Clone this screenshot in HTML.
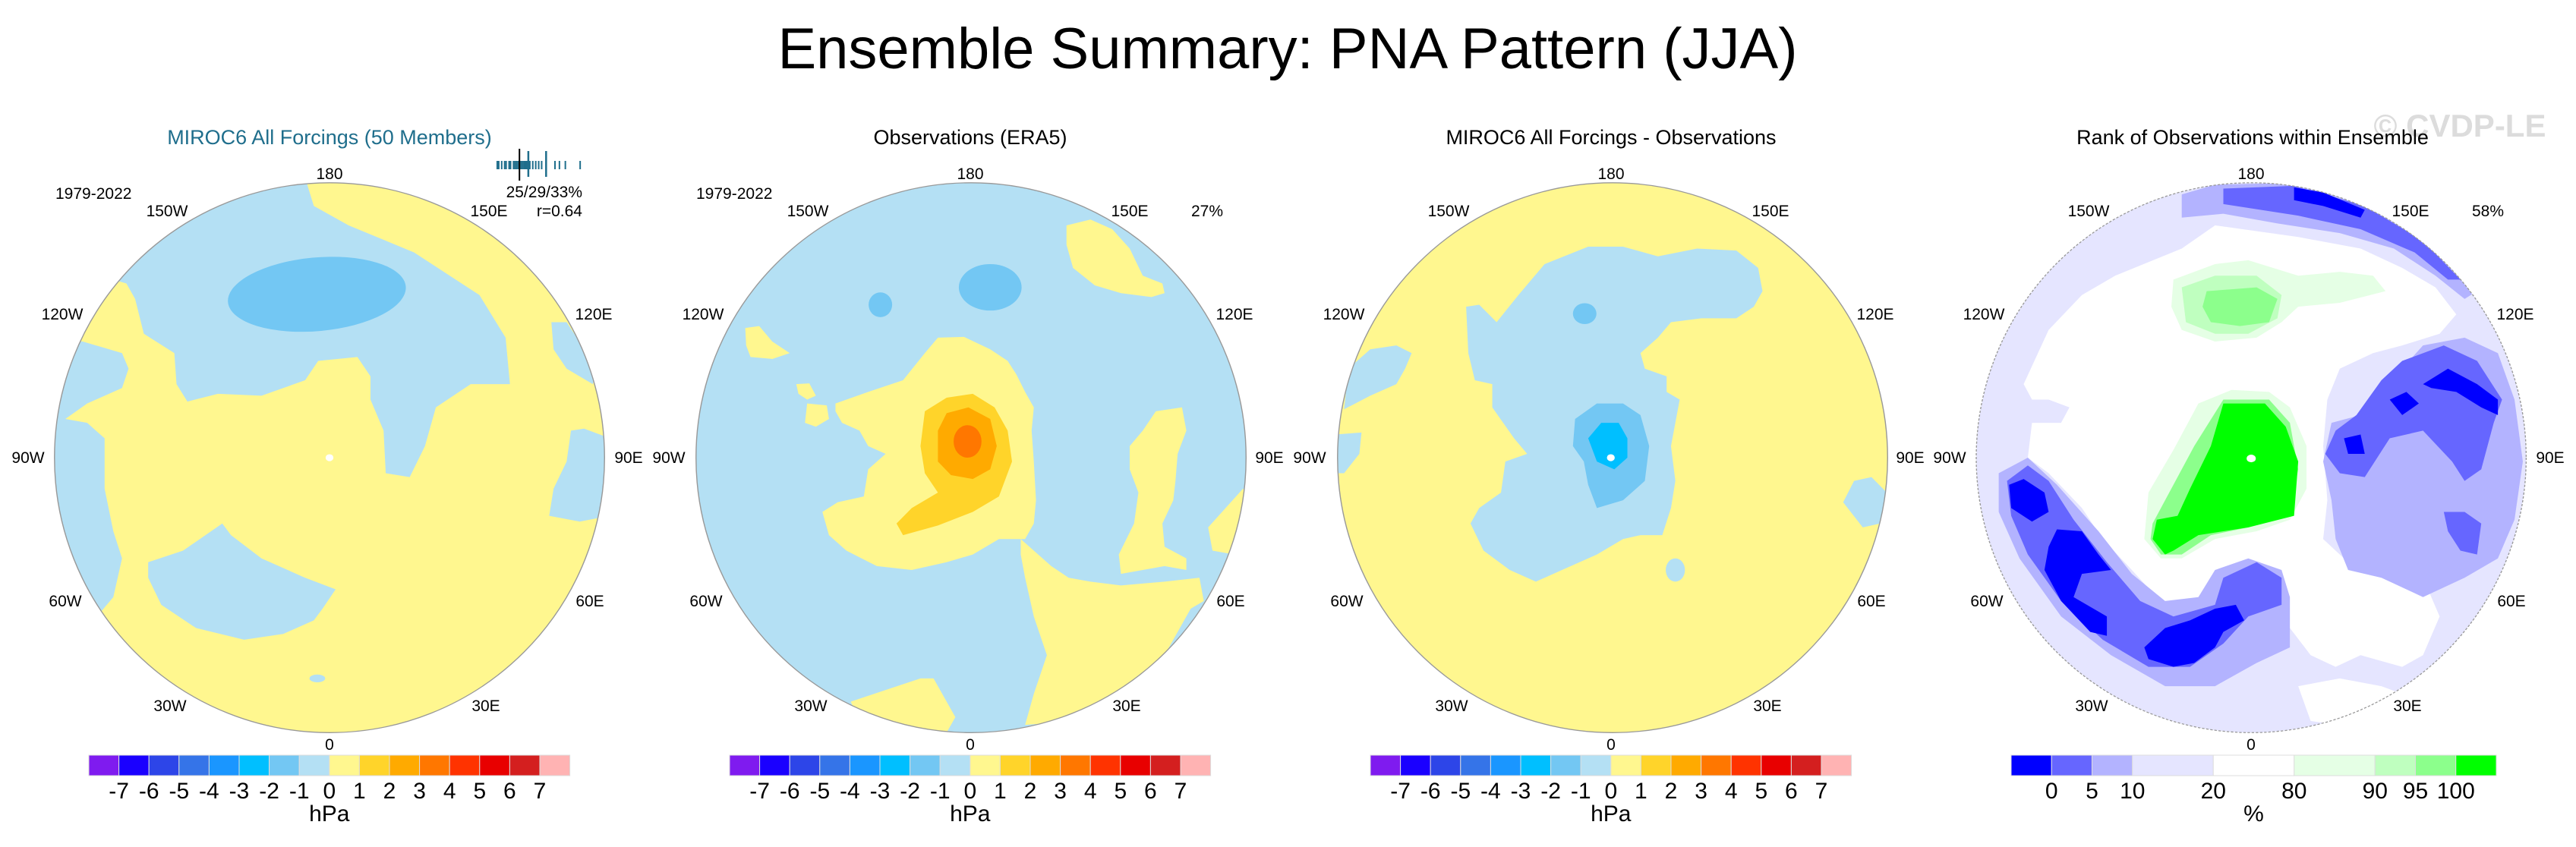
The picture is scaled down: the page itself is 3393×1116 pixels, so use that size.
<!DOCTYPE html>
<html><head><meta charset="utf-8"><title>Ensemble Summary: PNA Pattern (JJA)</title>
<style>
html,body{margin:0;padding:0;background:#fff;}
svg{display:block;font-family:"Liberation Sans",Arial,sans-serif;}
</style></head>
<body>
<svg id="fig" width="3393" height="1116" viewBox="0 0 3393 1116" xmlns="http://www.w3.org/2000/svg">
<defs>
  <clipPath id="clipA" clipPathUnits="userSpaceOnUse"><ellipse cx="756" cy="790" rx="631" ry="710"/></clipPath>
  <clipPath id="clipB" clipPathUnits="userSpaceOnUse"><ellipse cx="787" cy="790" rx="661" ry="710"/></clipPath>
</defs>
<text x="1696" y="90" font-size="76" text-anchor="middle">Ensemble Summary: PNA Pattern (JJA)</text>
<text x="3240" y="180" font-size="42" font-weight="bold" fill="#dcdcdc" text-anchor="middle">© CVDP-LE</text>

<!-- Panel 1 -->
<g>
<text x="434" y="190" font-size="27" fill="#1f6e8c" text-anchor="middle">MIROC6 All Forcings (50 Members)</text>
<g transform="translate(0,200) scale(0.5741,0.5102)">
 <g clip-path="url(#clipA)">
  <ellipse cx="756" cy="790" rx="631" ry="710" fill="#fff78f"/>
  <polygon fill="#b4e0f4" points="700,-50 705,85 720,140 800,190 950,260 1100,370 1160,480 1170,600 1080,600 1000,660 975,760 940,840 885,830 880,720 850,640 850,580 820,530 730,540 700,590 600,630 500,625 430,645 405,600 400,520 330,470 310,380 290,340 260,330 0,300 0,-50"/>
  <polygon fill="#b4e0f4" points="0,480 190,490 280,520 295,560 280,610 200,650 150,690 200,700 240,740 240,870 260,980 280,1050 260,1150 230,1190 0,1200"/>
  <polygon fill="#b4e0f4" points="340,1060 420,1030 510,960 530,990 600,1050 700,1100 770,1130 740,1180 720,1210 650,1245 560,1260 450,1230 370,1170 340,1100"/>
  <polygon fill="#b4e0f4" points="1265,440 1300,440 1370,560 1360,600 1300,560 1270,510"/>
  <polygon fill="#b4e0f4" points="1310,720 1340,715 1400,740 1400,940 1330,955 1260,940 1270,870 1300,800"/>
  <ellipse cx="727" cy="368" rx="205" ry="95" transform="rotate(-6 727 368)" fill="#73c7f3"/>
  <ellipse cx="728" cy="1360" rx="18" ry="10" fill="#b4e0f4"/>
  <ellipse cx="756" cy="790" rx="9" ry="9" fill="#fff"/>
 </g>
 <ellipse cx="756" cy="790" rx="631" ry="710" fill="none" stroke="#999" stroke-width="2.5"/>
</g>
<g font-size="21" text-anchor="middle">
 <text x="434" y="236">180</text><text x="434" y="988">0</text>
 <text x="220" y="285">150W</text><text x="644" y="285">150E</text>
 <text x="82" y="421">120W</text><text x="782" y="421">120E</text>
 <text x="37" y="610">90W</text><text x="828" y="610">90E</text>
 <text x="86" y="799">60W</text><text x="777" y="799">60E</text>
 <text x="224" y="937">30W</text><text x="640" y="937">30E</text>
</g>
<text x="73" y="262" font-size="21">1979-2022</text>
<text x="767" y="260" font-size="21" text-anchor="end">25/29/33%</text>
<text x="767" y="285" font-size="21" text-anchor="end">r=0.64</text>
<g id="rug"></g>
</g>

<!-- Panel 2 -->
<g>
<text x="1278" y="190" font-size="27" text-anchor="middle">Observations (ERA5)</text>
<g transform="translate(845,200) scale(0.5741,0.5102)">
 <g clip-path="url(#clipA)">
  <ellipse cx="756" cy="790" rx="631" ry="710" fill="#b4e0f4"/>
  <polygon fill="#fff78f" points="975,190 1030,175 1080,200 1120,250 1150,320 1195,340 1200,365 1170,375 1100,365 1040,345 990,300 975,240"/>
  <ellipse cx="800" cy="350" rx="72" ry="60" fill="#73c7f3"/>
  <ellipse cx="548" cy="395" rx="27" ry="32" fill="#73c7f3"/>
  <polygon fill="#fff78f" points="238,455 270,450 300,490 340,520 300,535 250,530 240,500"/>
  <polygon fill="#fff78f" points="355,600 385,598 400,630 380,640 360,625"/>
  <polygon fill="#fff78f" points="380,650 425,655 430,690 400,710 375,700"/>
  <polygon fill="#fff78f" points="445,650 520,620 600,590 650,520 680,480 740,478 800,510 840,540 860,575 880,620 900,660 895,720 900,800 905,900 900,960 880,1000 820,1000 760,1040 700,1060 620,1080 540,1070 470,1030 430,990 415,930 450,905 510,890 520,820 560,780 520,760 500,720 460,700 445,670"/>
  <polygon fill="#fff78f" points="870,1000 900,1030 940,1070 980,1100 1030,1110 1100,1120 1200,1110 1280,1100 1290,1160 1260,1180 1200,1300 1130,1400 1000,1470 880,1480 900,1400 930,1300 900,1200 880,1100 870,1040"/>
  <polygon fill="#fff78f" points="1120,760 1150,720 1180,670 1240,660 1250,720 1230,780 1225,850 1220,900 1195,960 1200,1020 1250,1050 1250,1080 1200,1070 1150,1080 1100,1090 1095,1040 1130,960 1140,880 1120,820"/>
  <polygon fill="#fff78f" points="1300,970 1380,870 1400,900 1360,1040 1310,1030"/>
  <polygon fill="#fff78f" points="480,1420 560,1390 640,1360 670,1360 700,1420 720,1460 700,1500 600,1500 500,1470"/>
  <polygon fill="#ffd42a" points="650,670 700,635 760,625 810,660 840,720 850,800 820,890 760,930 680,965 600,990 585,960 620,920 680,880 650,830 640,760"/>
  <polygon fill="#ffaa00" points="680,720 700,675 750,660 800,690 815,760 800,820 760,845 710,835 680,800"/>
  <ellipse cx="748" cy="748" rx="32" ry="42" fill="#ff7700"/>
 </g>
 <ellipse cx="756" cy="790" rx="631" ry="710" fill="none" stroke="#999" stroke-width="2.5"/>
</g>
<g font-size="21" text-anchor="middle">
 <text x="1278" y="236">180</text><text x="1278" y="988">0</text>
 <text x="1064" y="285">150W</text><text x="1488" y="285">150E</text>
 <text x="926" y="421">120W</text><text x="1626" y="421">120E</text>
 <text x="881" y="610">90W</text><text x="1672" y="610">90E</text>
 <text x="930" y="799">60W</text><text x="1621" y="799">60E</text>
 <text x="1068" y="937">30W</text><text x="1484" y="937">30E</text>
</g>
<text x="917" y="262" font-size="21">1979-2022</text>
<text x="1611" y="285" font-size="21" text-anchor="end">27%</text>
</g>

<!-- Panel 3 -->
<g>
<text x="2122" y="190" font-size="27" text-anchor="middle">MIROC6 All Forcings - Observations</text>
<g transform="translate(1690,200) scale(0.5741,0.5102)">
 <g clip-path="url(#clipA)">
  <ellipse cx="756" cy="790" rx="631" ry="710" fill="#fff78f"/>
  <polygon fill="#b4e0f4" points="420,400 450,395 490,440 540,370 600,290 700,245 780,245 860,270 950,250 1040,255 1090,300 1100,360 1080,400 1040,430 960,430 890,440 860,480 820,520 830,560 880,580 880,620 910,640 900,700 890,760 900,850 890,920 870,990 820,990 780,1000 720,1040 640,1080 580,1110 520,1080 460,1030 430,960 450,920 500,880 510,800 560,780 530,740 480,660 480,600 440,590 425,520"/>
  <polygon fill="#73c7f3" points="670,690 720,650 780,650 820,680 840,760 830,850 780,900 720,920 700,860 690,800 665,760"/>
  <polygon fill="#00bfff" points="700,740 730,700 770,700 790,740 790,790 760,820 720,800"/>
  <ellipse cx="692" cy="418" rx="27" ry="27" fill="#73c7f3"/>
  <polygon fill="#b4e0f4" points="150,560 200,510 260,500 295,520 280,560 260,600 200,630 140,665"/>
  <polygon fill="#b4e0f4" points="120,730 180,725 175,780 140,830 115,830"/>
  <polygon fill="#b4e0f4" points="1310,850 1350,840 1385,880 1370,960 1330,970 1285,905"/>
  <ellipse cx="900" cy="1080" rx="22" ry="30" fill="#b4e0f4"/>
 </g>
 <ellipse cx="752" cy="790" rx="9" ry="9" fill="#fff"/>
 <ellipse cx="756" cy="790" rx="631" ry="710" fill="none" stroke="#999" stroke-width="2.5"/>
</g>
<g font-size="21" text-anchor="middle">
 <text x="2122" y="236">180</text><text x="2122" y="988">0</text>
 <text x="1908" y="285">150W</text><text x="2332" y="285">150E</text>
 <text x="1770" y="421">120W</text><text x="2470" y="421">120E</text>
 <text x="1725" y="610">90W</text><text x="2516" y="610">90E</text>
 <text x="1774" y="799">60W</text><text x="2465" y="799">60E</text>
 <text x="1912" y="937">30W</text><text x="2328" y="937">30E</text>
</g>
</g>

<!-- Panel 4 -->
<g>
<text x="2967" y="190" font-size="27" text-anchor="middle">Rank of Observations within Ensemble</text>
<g transform="translate(2534,200) scale(0.5479,0.5102)">
 <g clip-path="url(#clipB)">
  <ellipse cx="787" cy="790" rx="661" ry="710" fill="#e5e5ff"/>
  <polygon fill="#ffffff" points="240,600 300,460 380,370 460,320 620,250 700,190 900,220 1050,250 1150,300 1230,350 1280,420 1240,470 1150,500 1080,520 1000,560 970,640 960,760 970,900 960,1000 1010,1050 1100,1080 1200,1100 1240,1200 1200,1300 1150,1330 1050,1300 990,1330 930,1300 880,1230 860,1160 820,1080 760,1060 700,1120 650,1160 600,1180 560,1150 500,1080 430,1000 380,920 300,830 250,790 260,700 330,700 350,660 300,640 260,640"/>
  <polygon fill="#ffffff" points="900,1380 1000,1360 1100,1380 1150,1400 1100,1450 1000,1480 930,1470"/>
  <polygon fill="#b3b3ff" points="620,110 700,85 900,80 1100,150 1250,260 1330,360 1300,380 1230,320 1130,250 1000,210 850,185 720,160 620,170"/>
  <polygon fill="#6666ff" points="720,95 890,88 1060,140 1200,230 1290,330 1260,330 1180,260 1050,200 900,165 720,135"/>
  <polygon fill="#0000ff" points="890,92 960,105 1060,150 1050,170 960,140 890,125"/>
  <polygon fill="#b3b3ff" points="180,830 250,790 320,860 420,980 500,1090 580,1160 660,1150 700,1080 780,1050 860,1080 880,1150 880,1280 800,1320 700,1380 580,1380 450,1300 330,1200 230,1050 180,930"/>
  <polygon fill="#6666ff" points="200,850 250,810 300,850 360,950 440,1060 520,1160 600,1200 700,1170 720,1100 800,1060 860,1100 860,1170 780,1200 720,1270 640,1330 540,1330 430,1260 330,1160 250,1040 210,940"/>
  <polygon fill="#0000ff" points="205,860 240,845 290,880 300,930 260,955 210,920"/>
  <polygon fill="#0000ff" points="320,975 380,980 420,1040 450,1080 380,1090 360,1150 440,1200 440,1250 400,1240 330,1160 290,1080 300,1020"/>
  <polygon fill="#0000ff" points="530,1280 580,1230 640,1210 700,1180 750,1170 770,1210 720,1240 700,1280 650,1320 600,1330 540,1310"/>
  <polygon fill="#b3b3ff" points="980,700 1050,680 1100,620 1200,500 1300,480 1380,520 1420,640 1440,800 1420,950 1380,1050 1300,1100 1200,1150 1100,1100 1020,1080 990,1000 980,900 960,800"/>
  <polygon fill="#6666ff" points="1040,680 1100,590 1150,540 1250,500 1330,540 1390,640 1370,700 1340,820 1300,850 1270,800 1200,720 1120,740 1060,840 1000,830 965,780 990,720"/>
  <polygon fill="#0000ff" points="1120,640 1160,620 1190,650 1150,680"/>
  <polygon fill="#0000ff" points="1200,600 1260,560 1330,600 1380,640 1380,680 1340,660 1280,620 1220,610"/>
  <polygon fill="#0000ff" points="1010,740 1050,730 1060,780 1020,780"/>
  <polygon fill="#6666ff" points="1250,930 1300,930 1340,960 1330,1040 1290,1030 1260,980"/>
  <polygon fill="#e5ffe5" points="600,330 700,290 780,280 900,320 1000,310 1080,320 1110,360 1000,390 900,400 860,440 800,480 700,490 620,460 595,400"/>
  <polygon fill="#bfffbf" points="620,350 700,320 800,320 860,370 850,430 780,470 700,470 630,440"/>
  <polygon fill="#8cff8c" points="680,360 800,350 850,380 830,440 760,450 690,440 670,400"/>
  <polygon fill="#e5ffe5" points="540,880 600,770 660,650 740,615 830,620 880,660 920,760 920,870 880,950 800,980 700,1000 620,1050 570,1050 530,1000"/>
  <polygon fill="#8cff8c" points="550,960 600,860 650,760 720,640 830,640 880,700 900,820 880,940 780,970 690,990 620,1040 570,1040 545,1000"/>
  <polygon fill="#00ff00" points="560,950 610,940 640,870 690,760 720,650 820,650 870,710 900,800 890,940 780,970 660,990 600,1030 580,1040 550,1000"/>
 </g>
 <ellipse cx="787" cy="792" rx="11" ry="10" fill="#fff"/>
 <ellipse cx="787" cy="790" rx="661" ry="710" fill="none" stroke="#999" stroke-width="2.5" stroke-dasharray="6 4"/>
</g>
<g font-size="21" text-anchor="middle">
 <text x="2965" y="236">180</text><text x="2965" y="988">0</text>
 <text x="2751" y="285">150W</text><text x="3175" y="285">150E</text>
 <text x="2613" y="421">120W</text><text x="3313" y="421">120E</text>
 <text x="2568" y="610">90W</text><text x="3359" y="610">90E</text>
 <text x="2617" y="799">60W</text><text x="3308" y="799">60E</text>
 <text x="2755" y="937">30W</text><text x="3171" y="937">30E</text>
</g>
<text x="3298" y="285" font-size="21" text-anchor="end">58%</text>
</g>

<g id="colorbars"></g>
</svg>
<script>
// ---- data ----
const slpLevels = [-7,-6,-5,-4,-3,-2,-1,0,1,2,3,4,5,6,7];
const slpColors = ["#7f1bef","#1a00ff","#2d45e8","#3574e8","#1a96ff","#00bfff","#73c7f3","#b4e0f4","#fff78f","#ffd42a","#ffaa00","#ff7700","#ff3300","#e80000","#d41f1f","#ffb3b3"];
const rankLevels = [0,5,10,20,80,90,95,100];
const rankColors = ["#0000ff","#6666ff","#b3b3ff","#e5e5ff","#ffffff","#e5ffe5","#bfffbf","#8cff8c","#00ff00"];
const rankWidths = [1,1,1,2,2,2,1,1,1];
const memberCorr = [0.31,0.32,0.34,0.36,0.37,0.39,0.40,0.42,0.43,0.44,0.45,0.46,0.47,0.48,0.49,0.50,0.51,0.52,0.53,0.55,0.57,0.59,0.61,0.64,0.70,0.73,0.77,0.87];
const obsCorr = [0.46];
const ensMeanCorr = [0.52,0.64];

const NS = "http://www.w3.org/2000/svg";
function mk(tag, attrs, parent){const e=document.createElementNS(NS,tag);for(const k in attrs)e.setAttribute(k,attrs[k]);parent.appendChild(e);return e;}

// rug axis
const rugX = v => 653 + (v - 0.3) / 0.6 * 117;
const rug = document.getElementById('rug');
memberCorr.forEach(v=>{
  const l = mk('line',{x1:rugX(v),x2:rugX(v),y1:212,y2:223,stroke:"#1f6e8c","stroke-width":2},rug);
  
  
});
ensMeanCorr.forEach(v=>{
  const l = mk('line',{x1:rugX(v),x2:rugX(v),y1:199,y2:233,stroke:"#1f6e8c","stroke-width":2.5},rug);
  
  
});
obsCorr.forEach(v=>{
  const l = mk('line',{x1:rugX(v),x2:rugX(v),y1:196,y2:238,stroke:"#000","stroke-width":2},rug);
  
  
});

// colorbars
const cbG = document.getElementById('colorbars');
const panelCb = [117, 961, 1805];
const boxW = 39.6, cbY = 995, cbH = 27;
panelCb.forEach((x0,pi)=>{
  const g = mk('g',{},cbG);
  
  
  slpColors.forEach((c,i)=>{
    const r = mk('rect',{x:x0+i*boxW,y:cbY,width:boxW,height:cbH,fill:c,stroke:"#ddd","stroke-width":1},g);
    
    
  });
  slpLevels.forEach((v,i)=>{
    const t = mk('text',{x:x0+(i+1)*boxW,y:1052,"font-size":30,"text-anchor":"middle"},g);
    t.textContent = v;
    
    
  });
  const cx = x0 + slpColors.length*boxW/2;
  const u = mk('text',{x:cx,y:1082,"font-size":30,"text-anchor":"middle"},g);
  u.textContent = "hPa";
  
  
});
// rank colorbar
(function(){
  const x0 = 2649, unit = 639/12;
  const g = mk('g',{},cbG);
  
  
  let x = x0; const bounds=[];
  rankColors.forEach((c,i)=>{
    const w = rankWidths[i]*unit;
    const r = mk('rect',{x:x,y:cbY,width:w,height:cbH,fill:c,stroke:"#ddd","stroke-width":1},g);
    
    
    x += w; bounds.push(x);
  });
  rankLevels.forEach((v,i)=>{
    const t = mk('text',{x:bounds[i],y:1052,"font-size":30,"text-anchor":"middle"},g);
    t.textContent = v;
    
    
  });
  const u = mk('text',{x:x0+319.5,y:1082,"font-size":30,"text-anchor":"middle"},g);
  u.textContent = "%";
  
  
})();
</script>
</body></html>
